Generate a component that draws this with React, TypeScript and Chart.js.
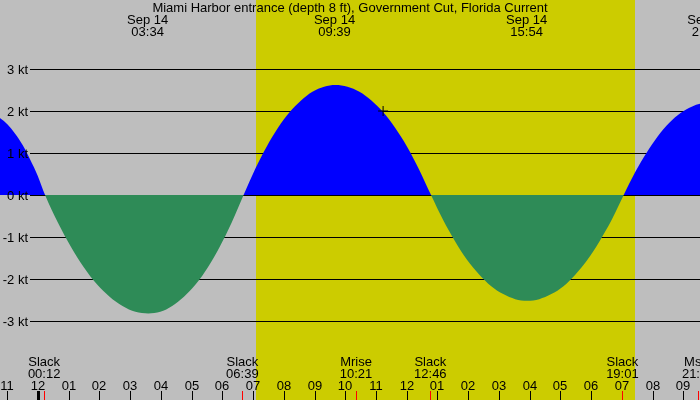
import React, { useEffect, useRef } from "react";
import { Chart, registerables } from "chart.js";

Chart.register(...registerables);

const TITLE = "Miami Harbor entrance (depth 8 ft), Government Cut, Florida Current";

// Current readings: hours after midnight Sep 14, speed in knots (+ flood, - ebb)
const flowHours = [
  -1.72, -1.48, -1.23, -0.99, -0.745, -0.5, -0.26, -0.01, 0.23,
  0.65, 1.07, 1.49, 1.91, 2.33, 2.75, 3.17, 3.59,
  3.98, 4.365, 4.75, 5.14, 5.53, 5.915, 6.3, 6.69,
  7.06, 7.44, 7.81, 8.185, 8.56, 8.93, 9.31, 9.68,
  10.07, 10.46, 10.85, 11.235, 11.62, 12.01, 12.4, 12.79,
  13.18, 13.57, 13.96, 14.355, 14.75, 15.14, 15.53, 15.92,
  16.31, 16.705, 17.1, 17.49, 17.88, 18.275, 18.67, 19.06,
  19.43, 19.8, 20.17, 20.545, 20.92, 21.29, 21.66, 22.03,
];
const flowKnots = [
  1.95, 1.92, 1.83, 1.68, 1.46, 1.19, 0.85, 0.46, 0,
  -0.66, -1.23, -1.72, -2.12, -2.42, -2.64, -2.78, -2.82,
  -2.78, -2.64, -2.42, -2.12, -1.72, -1.23, -0.66, 0,
  0.61, 1.15, 1.6, 1.97, 2.25, 2.46, 2.58, 2.62,
  2.58, 2.46, 2.25, 1.97, 1.6, 1.15, 0.61, 0,
  -0.59, -1.1, -1.54, -1.89, -2.17, -2.36, -2.48, -2.52,
  -2.48, -2.36, -2.17, -1.89, -1.54, -1.1, -0.59, 0,
  0.54, 1.0, 1.4, 1.72, 1.96, 2.11, 2.19, 2.22,
];

// Max current labels (top)
const peakHours = [3.567, 9.65, 15.9, 21.8];
const peakDates = ["Sep 14", "Sep 14", "Sep 14", "Sep 14"];
const peakTimes = ["03:34", "09:39", "15:54", "21:48"];

// Events (bottom)
const eventHours = [0.2, 6.65, 10.35, 12.767, 19.017, 21.483];
const eventNames = ["Slack", "Slack", "Mrise", "Slack", "Slack", "Mset"];
const eventTimes = ["00:12", "06:39", "10:21", "12:46", "19:01", "21:29"];

// Hour ticks
const hourTicks = [-1, 0, 1, 2, 3, 4, 5, 6, 7, 8, 9, 10, 11, 12, 13, 14, 15, 16, 17, 18, 19, 20, 21];
const hourLabels = [
  "11", "12", "01", "02", "03", "04", "05", "06", "07", "08", "09", "10", "11",
  "12", "01", "02", "03", "04", "05", "06", "07", "08", "09",
];

// Horizontal reference lines
const gridKnots = [3, 2, 1, 0, -1, -2, -3];
const gridLabels = ["3 kt", "2 kt", "1 kt", "0 kt", "-1 kt", "-2 kt", "-3 kt"];

// Daylight
const sunriseHour = 7.08;
const sunsetHour = 19.43;

// Current-time marker
const nowHours = [11.23];
const nowKnots = [2.0];

const GRAY = "#bebebe";
const YELLOW = "#cccc00";
const BLUE = "#0000ff";
const GREEN = "#2e8b57";
const FONT = "13px 'Liberation Sans', Arial, sans-serif";

const decorPlugin = {
  id: "tideDecor",
  beforeDraw(chart: any) {
    const { ctx, width, height } = chart;
    const xs = chart.scales.x;
    ctx.save();
    ctx.fillStyle = GRAY;
    ctx.fillRect(0, 0, width, height);
    const x1 = Math.round(xs.getPixelForValue(sunriseHour));
    const x2 = Math.round(xs.getPixelForValue(sunsetHour));
    ctx.fillStyle = YELLOW;
    ctx.fillRect(x1, 0, x2 - x1, height);
    ctx.restore();
  },
  beforeDatasetsDraw(chart: any) {
    const { ctx, width } = chart;
    const ys = chart.scales.y;
    ctx.save();
    ctx.strokeStyle = "#000";
    ctx.lineWidth = 1;
    gridKnots.forEach((v) => {
      const y = Math.round(ys.getPixelForValue(v)) + 0.5;
      ctx.beginPath();
      ctx.moveTo(30, y);
      ctx.lineTo(width, y);
      ctx.stroke();
    });
    ctx.restore();
  },
  afterDatasetsDraw(chart: any) {
    const { ctx, width, height } = chart;
    const xs = chart.scales.x;
    const ys = chart.scales.y;
    ctx.save();
    ctx.font = FONT;
    ctx.fillStyle = "#000";
    ctx.textBaseline = "alphabetic";

    // y labels
    ctx.textAlign = "right";
    gridKnots.forEach((v, i) => {
      const y = Math.round(ys.getPixelForValue(v));
      ctx.fillText(gridLabels[i], 28, y + 5);
    });

    // title
    ctx.textAlign = "center";
    ctx.fillText(TITLE, width / 2, 12);

    // peak labels
    peakHours.forEach((h, i) => {
      const x = xs.getPixelForValue(h);
      ctx.fillText(peakDates[i], x, 24);
      ctx.fillText(peakTimes[i], x, 36);
    });

    // event labels
    eventHours.forEach((h, i) => {
      const x = xs.getPixelForValue(h);
      ctx.fillText(eventNames[i], x, 366);
      ctx.fillText(eventTimes[i], x, 378);
    });

    // hour labels and ticks
    hourTicks.forEach((h, i) => {
      const x = Math.round(xs.getPixelForValue(h));
      ctx.fillStyle = "#000";
      ctx.fillText(hourLabels[i], x, 390);
      if (h === 0) ctx.fillRect(x - 1, height - 9, 3, 9);
      else ctx.fillRect(x, height - 9, 1, 9);
    });

    // event ticks
    ctx.fillStyle = "#ff0000";
    eventHours.forEach((h) => {
      const x = Math.round(xs.getPixelForValue(h));
      ctx.fillRect(x, height - 9, 1, 9);
    });
    ctx.restore();
  },
};

export default function App() {
  const ref = useRef<HTMLCanvasElement | null>(null);

  useEffect(() => {
    if (!ref.current) return;
    const chart = new Chart(ref.current, {
      type: "line",
      data: {
        datasets: [
          {
            label: "now",
            data: nowHours.map((h, i) => ({ x: h, y: nowKnots[i] })),
            showLine: false,
            pointStyle: "cross",
            pointRadius: 5,
            pointBorderColor: "#000",
            pointBorderWidth: 1,
            fill: false,
            clip: false,
            order: 0,
          },
          {
            label: "current",
            data: flowHours.map((h, i) => ({ x: h, y: flowKnots[i] })),
            borderColor: "rgba(0,0,0,0)",
            borderWidth: 0,
            pointRadius: 0,
            cubicInterpolationMode: "monotone",
            fill: { target: "origin", above: BLUE, below: GREEN },
            order: 1,
          },
        ],
      },
      options: {
        animation: false,
        responsive: false,
        devicePixelRatio: 1,
        layout: { padding: 0, autoPadding: false },
        events: [],
        plugins: {
          legend: { display: false },
          tooltip: { enabled: false },
          title: { display: false },
        },
        scales: {
          x: { type: "linear", min: -1.2366, max: 21.5425, display: false },
          y: { type: "linear", min: -4.881, max: 4.643, display: false },
        },
      },
      plugins: [decorPlugin],
    });
    return () => chart.destroy();
  }, []);

  return (
    <div style={{ position: "fixed", left: 0, top: 0, width: 700, height: 400 }}>
      <canvas ref={ref} width={700} height={400} style={{ display: "block" }} />
    </div>
  );
}
